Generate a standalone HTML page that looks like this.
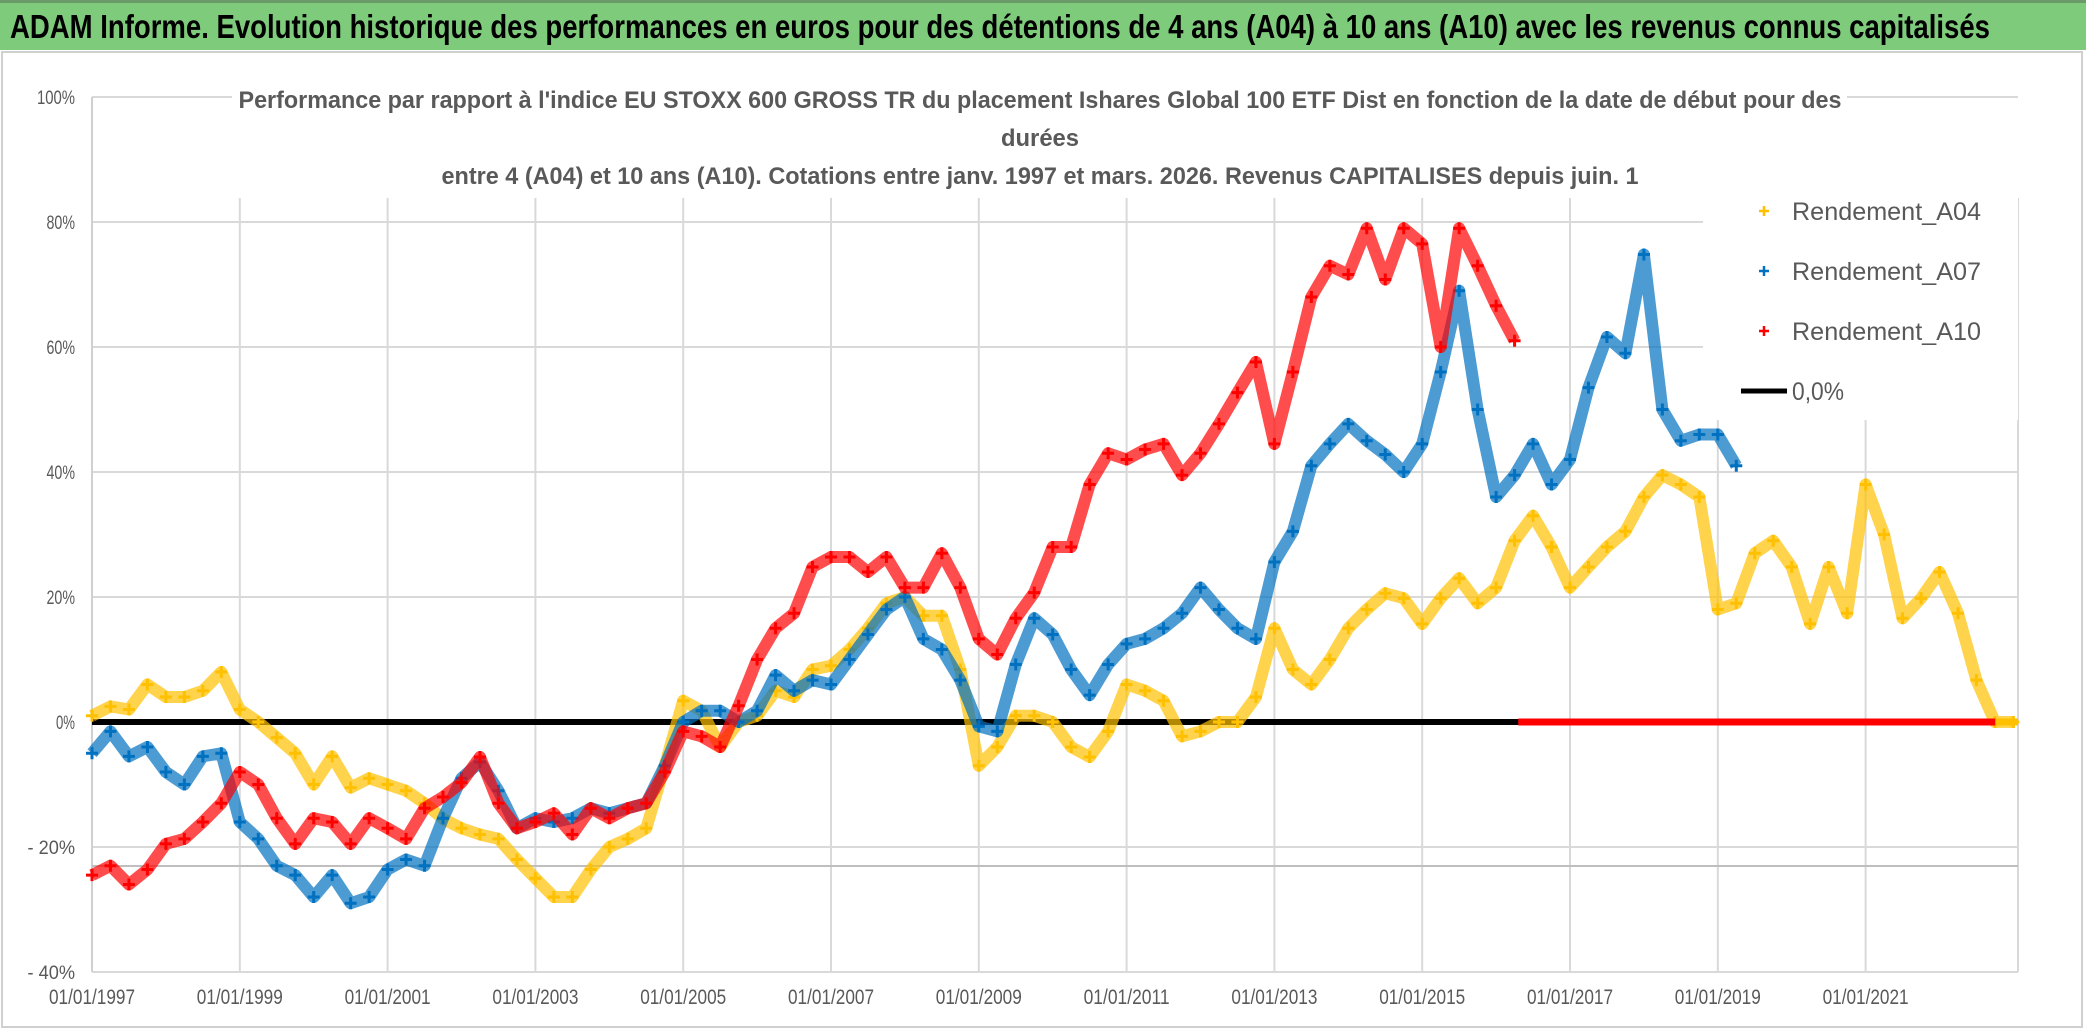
<!DOCTYPE html>
<html><head><meta charset="utf-8">
<style>
body{margin:0;background:#fff;width:2086px;height:1031px;overflow:hidden;font-family:"Liberation Sans",sans-serif}
</style></head><body>
<svg id="chart" width="2086" height="1031" style="position:absolute;left:0;top:0" xmlns="http://www.w3.org/2000/svg">
<rect x="0" y="0" width="2086" height="50" fill="#7fcb7c"/>
<rect x="0" y="0" width="2086" height="3" fill="#6a9a68"/>
<text x="10" y="38" font-size="33" font-weight="bold" fill="#000" textLength="1980" lengthAdjust="spacingAndGlyphs" font-family="Liberation Sans, sans-serif">ADAM Informe. Evolution historique des performances en euros pour des détentions de 4 ans (A04) à 10 ans (A10) avec les revenus connus capitalisés</text>
</svg>
<script>
const startYear=1997, step=0.25;
const a04Values=[1,2.5,2,6,4,4,5,8,2,0,-2.5,-5,-10,-5.5,-10.5,-9,-10,-11,-13,-15.5,-17,-18,-18.7,-22,-25,-28,-28,-23.6,-20,-18.7,-17,-7,
3.4,1.8,-4,0,1,5,4,8.4,9,11.6,15,19,20,17,17,8.4,-7,-4,1,1,0,-4,-5.6,-1.5,6,5,3.4,-2.3,-1.5,0,0,4,
15,8.4,6,10,15,18,20.6,19.8,15.7,19.8,23,19,21.5,29,33,28,21.5,24.8,28,30.5,36,39.5,38,36,18,19,27,29,24.8,15.7,24.8,17.4,38,30,16.6,19.8,24,17.4,6.7,0,0];
const a07Values=[-5,-1.5,-5.5,-4,-8,-10,-5.5,-5,-16,-18.7,-23,-24.5,-28,-24.5,-29,-28,-23.6,-22,-23,-15.4,-9,-6.4,-11,-17,-15.4,-16,-15.4,-13.8,-14.6,-13.8,-13,-7,
0,1.8,1.8,0,1.8,7.5,5,6.7,6,10,14,18,20,13.3,11.6,6.7,-0.7,-1.5,9.2,16.6,14,8.4,4.3,9.2,12.5,13.3,15,17.4,21.5,18,15,13.3,
25.6,30.5,41,44.5,47.7,45,42.8,40,44.5,56,69,50,36,39.5,44.5,38,42,53.5,61.6,59,74.8,50,45,46,46,41];
const a10Values=[-24.5,-23,-26,-23.6,-19.5,-18.7,-16,-13,-8,-10,-15.4,-19.5,-15.4,-16,-19.5,-15.4,-17,-18.7,-13.8,-12,-9.7,-5.6,-13,-17,-16,-14.6,-18,-13.8,-15.4,-13.8,-13,-8,
-1.5,-2.3,-4,2.6,10,15,17.4,24.8,26.4,26.4,24,26.4,21.5,21.5,27,21.5,13.3,10.8,16.6,20.7,28,28,38,43,42,43.6,44.5,39.5,43,47.7,52.7,57.6,
44.5,56,68,73,71.6,79,70.8,79,76.5,60,79,73,66.6,61];
const a10ZeroYears=[2016.3,2023.0];
const yTicks=[100,80,60,40,20,0,-20,-40];
const yTickLabels=["100%","80%","60%","40%","20%","0%","- 20%","- 40%"];
const xTickYears=[1997,1999,2001,2003,2005,2007,2009,2011,2013,2015,2017,2019,2021];
const NS="http://www.w3.org/2000/svg";
const svg=document.getElementById('chart');
const X=y=>92+(y-1997)*73.9;
const Y=v=>722-v*6.25;
const PL=92,PR=2018;
const FF='Liberation Sans, sans-serif';
function el(t,a,p){const e=document.createElementNS(NS,t);for(const k in a)e.setAttribute(k,a[k]);(p||svg).appendChild(e);return e;}
let b=el('rect',{x:2,y:52,width:2080,height:975,fill:'none',stroke:'#d0d0d0','stroke-width':2});

yTicks.forEach((v,i)=>{
 const g=el('line',{x1:PL,x2:PR,y1:Y(v),y2:Y(v),stroke:'#d9d9d9','stroke-width':2});
 
 const lab=yTickLabels[i];
 const t=el('text',{x:75,y:Y(v)+7,'text-anchor':'end','font-size':19,fill:'#595959','font-family':FF,textLength:lab.length*9.5,lengthAdjust:'spacingAndGlyphs'});
 t.textContent=lab;
 
});
xTickYears.forEach(yr=>{
 const g=el('line',{x1:X(yr),x2:X(yr),y1:198,y2:Y(-40),stroke:'#d9d9d9','stroke-width':2});
 
 const t=el('text',{x:X(yr)-43,y:1004,'font-size':21,fill:'#595959','font-family':FF,textLength:86,lengthAdjust:'spacingAndGlyphs'});
 t.textContent='01/01/'+yr;
 
});
let rl=el('line',{x1:PR,x2:PR,y1:198,y2:Y(-40),stroke:'#d9d9d9','stroke-width':2});

let ll=el('line',{x1:PL,x2:PL,y1:Y(100),y2:Y(-40),stroke:'#d0d0d0','stroke-width':2});

let xl=el('line',{x1:PL,x2:PR,y1:866,y2:866,stroke:'#bfbfbf','stroke-width':2});

let tb=el('rect',{x:232,y:82,width:1615,height:114,fill:'#fff'});

let lb=el('rect',{x:1703,y:185,width:315,height:235,fill:'#fff'});

let zl=el('line',{x1:PL,x2:PR,y1:Y(0),y2:Y(0),stroke:'#000','stroke-width':6});

function series(vals,color,name){
 const g=el('g',{});
 
 const pts=vals.map((v,i)=>[X(startYear+i*step),Y(v)]);
 el('polyline',{points:pts.map(p=>p.join(',')).join(' '),fill:'none',stroke:color,'stroke-width':12,'stroke-linejoin':'round','opacity':0.7},g);
 pts.forEach(p=>{
  const c=el('path',{d:`M${p[0]-6},${p[1]}h12M${p[0]},${p[1]-6}v12`,stroke:color,'stroke-width':3},g);
  
 });
}
series(a04Values,'#ffc000','series-a04');
series(a07Values,'#0070c0','series-a07');
series(a10Values,'#ff0000','series-a10');
let rz=el('line',{x1:X(a10ZeroYears[0]),x2:X(a10ZeroYears[1])-18,y1:Y(0),y2:Y(0),stroke:'#ff0000','stroke-width':7});

let yz=el('line',{x1:X(a10ZeroYears[1])-18,x2:PR,y1:Y(0),y2:Y(0),stroke:'#ffc000','stroke-width':7});

const titleLines=["Performance par rapport à l'indice EU STOXX 600 GROSS TR  du placement Ishares Global 100 ETF Dist en fonction de la date de début pour des","durées","entre 4 (A04) et 10 ans (A10). Cotations entre janv. 1997 et mars. 2026. Revenus CAPITALISES depuis juin. 1"];
const titleW=[1603,78,1197];
[108,146,184].forEach((y,i)=>{
 const t=el('text',{x:1040-titleW[i]/2,y:y,'font-size':24,'font-weight':'bold',fill:'#595959','font-family':FF,textLength:titleW[i],lengthAdjust:'spacingAndGlyphs'});
 t.textContent=titleLines[i];
 
});
const legendNames=["Rendement_A04","Rendement_A07","Rendement_A10"];
const legendColors=['#ffc000','#0070c0','#ff0000'];
legendNames.forEach((n,i)=>{
 const y=211+i*60;
 const g=el('g',{});
 
 el('path',{d:`M1759,${y}h10M1764,${y-5}v10`,stroke:legendColors[i],'stroke-width':2.5},g);
 const t=el('text',{x:1792,y:y+9,'font-size':25,fill:'#595959','font-family':FF,textLength:189,lengthAdjust:'spacingAndGlyphs'},g);
 t.textContent=n;
});
const lg=el('g',{});

el('line',{x1:1741,x2:1787,y1:391,y2:391,stroke:'#000','stroke-width':5},lg);
const lt=el('text',{x:1792,y:400,'font-size':25,fill:'#595959','font-family':FF,textLength:52,lengthAdjust:'spacingAndGlyphs'},lg);
lt.textContent='0,0%';
</script>
</body></html>
